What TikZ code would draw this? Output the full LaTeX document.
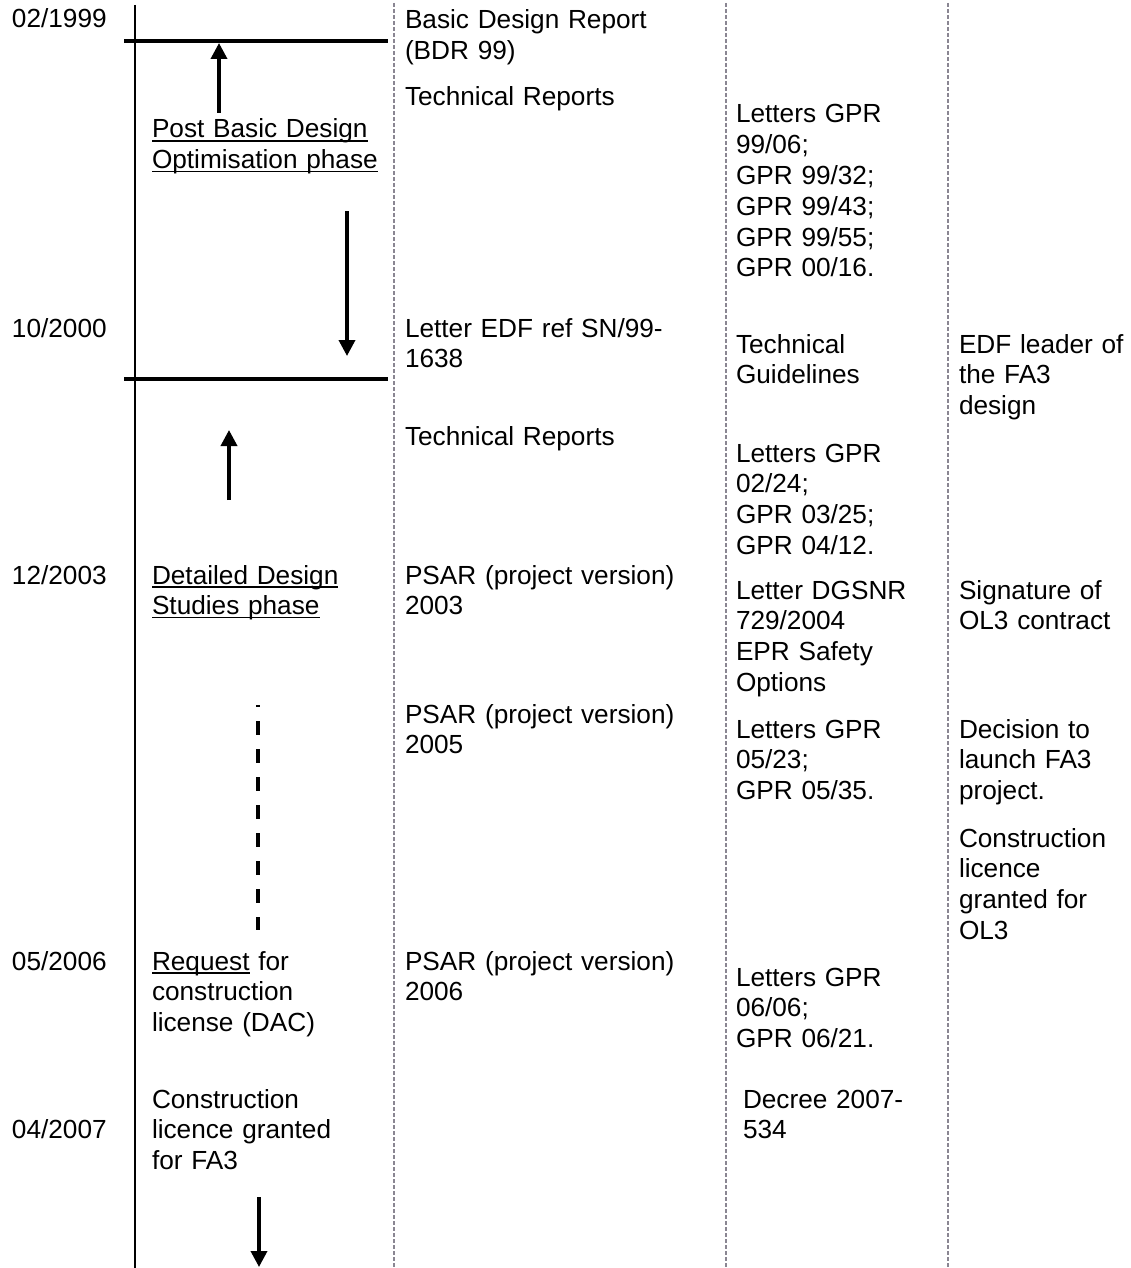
\documentclass[tikz,border=0pt]{standalone}
\usepackage{fontspec}
\setmainfont{Liberation Sans}
\usetikzlibrary{arrows.meta}
\definecolor{sepgray}{RGB}{138,134,146}
\newcommand\myul[1]{\leavevmode{\setbox0\hbox{#1}\rlap{\rule[-3.6pt]{\wd0}{1.6pt}}\box0}}
\begin{document}
\begin{tikzpicture}[x=1pt,y=-1pt,
  txt/.style={anchor=base west,inner sep=0pt,outer sep=0pt,align=left,
    font=\fontsize{26.2}{30.8}\selectfont},
  w1/.style={txt,text width=110pt},
  w2/.style={txt,text width=235pt},
  w3/.style={txt,text width=310pt},
  w4/.style={txt,text width=205pt},
  w5/.style={txt,text width=170pt},
  sepline/.style={draw=sepgray,line width=1.7pt,dash pattern=on 4pt off 2pt},
  axis/.style={draw=black,line width=1.3pt},
  milestone/.style={draw=black,line width=4.7pt},
  phasearrow/.style={draw=black,line width=3.6pt,-{Triangle[width=16pt,length=16pt]}},
  phasedash/.style={draw=black,line width=3.8pt,dash pattern=on 13.5pt off 14.5pt,dash phase=12pt}]
\useasboundingbox (0,0) rectangle (1131,1268);

% column separators
\coordinate (axT) at (135,5);    \coordinate (axB) at (135,1268);
\coordinate (s1T) at (394,3);    \coordinate (s1B) at (394,1268);
\coordinate (s2T) at (726,3);    \coordinate (s2B) at (726,1268);
\coordinate (s3T) at (948,3);    \coordinate (s3B) at (948,1268);
\draw[axis] (axT) -- (axB);
\draw[sepline] (s1T) -- (s1B);
\draw[sepline] (s2T) -- (s2B);
\draw[sepline] (s3T) -- (s3B);

% milestone bars
\coordinate (m1L) at (124,41); \coordinate (m1R) at (388,41);
\coordinate (m2L) at (124,379); \coordinate (m2R) at (388,379);
\draw[milestone] (m1L) -- (m1R);
\draw[milestone] (m2L) -- (m2R);

% arrows
\coordinate (a1s) at (219,113); \coordinate (a1e) at (219,43);
\coordinate (a2s) at (347,211); \coordinate (a2e) at (347,356);
\coordinate (a3s) at (229,500); \coordinate (a3e) at (229,430);
\coordinate (d1s) at (258,705); \coordinate (d1e) at (258,930);
\coordinate (a4s) at (259,1197); \coordinate (a4e) at (259,1267);
\draw[phasearrow] (a1s) -- (a1e);
\draw[phasearrow] (a2s) -- (a2e);
\draw[phasearrow] (a3s) -- (a3e);
\draw[phasedash] (d1s) -- (d1e);
\draw[phasearrow] (a4s) -- (a4e);

% column 1: dates
\node[w1] (d1) at (12,28) {02/1999};
\node[w1] (d2) at (12,337) {10/2000};
\node[w1] (d3) at (12,584) {12/2003};
\node[w1] (d4) at (12,970) {05/2006};
\node[w1] (d5) at (12,1138) {04/2007};

% column 2: phases
\node[w2] (p1) at (152,138) {\myul{Post Basic Design}\\\myul{Optimisation phase}};
\node[w2] (p2) at (152,584) {\myul{Detailed Design}\\\myul{Studies phase}};
\node[w2] (p3) at (152,970) {\myul{Request} for\\construction\\license (DAC)};
\node[w2] (p4) at (152,1108) {Construction\\licence granted\\for FA3};

% column 3: documents
\node[w3] (c1) at (405,29) {Basic Design Report\\(BDR 99)};
\node[w3] (c2) at (405,106) {Technical Reports};
\node[w3] (c3) at (405,337) {Letter EDF ref SN/99-\\1638};
\node[w3] (c4) at (405,445) {Technical Reports};
\node[w3] (c5) at (405,584) {PSAR (project version)\\2003};
\node[w3] (c6) at (405,723) {PSAR (project version)\\2005};
\node[w3] (c7) at (405,970) {PSAR (project version)\\2006};

% column 4: authority letters
\node[w4] (g1) at (736,123) {Letters GPR\\99/06;\\GPR 99/32;\\GPR 99/43;\\GPR 99/55;\\GPR 00/16.};
\node[w4] (g2) at (736,353) {Technical\\Guidelines};
\node[w4] (g3) at (736,462) {Letters GPR\\02/24;\\GPR 03/25;\\GPR 04/12.};
\node[w4] (g4) at (736,599) {Letter DGSNR\\729/2004\\EPR Safety\\Options};
\node[w4] (g5) at (736,738) {Letters GPR\\05/23;\\GPR 05/35.};
\node[w4] (g6) at (736,986) {Letters GPR\\06/06;\\GPR 06/21.};
\node[w4] (g7) at (743,1108) {Decree 2007-\\534};

% column 5: events
\node[w5] (e1) at (959,353) {EDF leader of\\the FA3\\design};
\node[w5] (e2) at (959,599) {Signature of\\OL3 contract};
\node[w5] (e3) at (959,738) {Decision to\\launch FA3\\project.};
\node[w5] (e4) at (959,847) {Construction\\licence\\granted for\\OL3};
\end{tikzpicture}
\end{document}
